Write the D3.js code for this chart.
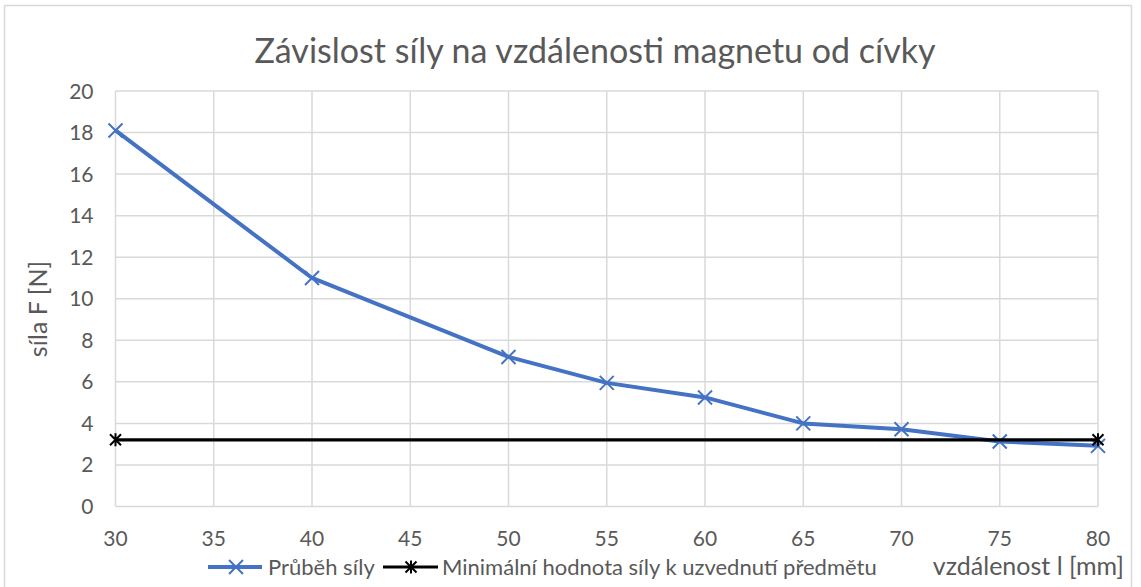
<!DOCTYPE html>
<html>
<head>
<meta charset="utf-8">
<script src="https://cdn.jsdelivr.net/npm/d3@7"></script>
<style>
  body { margin: 0; background: #fff; }
  text { font-family: Lato, "Open Sans", sans-serif; fill: #595959; }
</style>
</head>
<body>
<script>
// data
var distances = [30, 40, 50, 55, 60, 65, 70, 75, 80];
var forces = [18.1, 11.0, 7.2, 5.95, 5.25, 4.0, 3.72, 3.13, 2.92];
var minDistances = [30, 80];
var minForce = [3.21, 3.21];
var xTicks = [30, 35, 40, 45, 50, 55, 60, 65, 70, 75, 80];
var yTicks = [0, 2, 4, 6, 8, 10, 12, 14, 16, 18, 20];
var seriesNames = ['Průběh síly', 'Minimální hodnota síly k uzvednutí předmětu'];

var width = 1141, height = 587;
var plotLeft = 115.5, plotRight = 1098, plotTop = 91, plotBottom = 506.5;

var svg = d3.select('body').append('svg')
  .attr('width', width)
  .attr('height', height);

// chart border
svg.append('rect')
  .attr('x', 4.5).attr('y', 5.5)
  .attr('width', 1127).attr('height', 600)
  .attr('fill', 'none')
  .attr('stroke', '#d9d9d9')
  .attr('stroke-width', 1.5);

var x = d3.scaleLinear().domain([30, 80]).range([plotLeft, plotRight]);
var y = d3.scaleLinear().domain([0, 20]).range([plotBottom, plotTop]);

// grid
svg.append('g').selectAll('line').data(yTicks).enter().append('line')
  .attr('x1', plotLeft).attr('x2', plotRight)
  .attr('y1', function(d) { return y(d); })
  .attr('y2', function(d) { return y(d); })
  .attr('stroke', '#d9d9d9').attr('stroke-width', 1.5);

svg.append('g').selectAll('line').data(xTicks).enter().append('line')
  .attr('y1', plotTop).attr('y2', plotBottom)
  .attr('x1', function(d) { return x(d); })
  .attr('x2', function(d) { return x(d); })
  .attr('stroke', '#d9d9d9').attr('stroke-width', 1.5);

// tick labels
svg.append('g').selectAll('text').data(yTicks).enter().append('text')
  .attr('x', plotLeft - 22)
  .attr('y', function(d) { return y(d) + 7.5; })
  .attr('text-anchor', 'end')
  .attr('font-size', 21)
  .text(function(d) { return d; });

svg.append('g').selectAll('text').data(xTicks).enter().append('text')
  .attr('x', function(d) { return x(d); })
  .attr('y', plotBottom + 39)
  .attr('text-anchor', 'middle')
  .attr('font-size', 21)
  .text(function(d) { return d; });

// title and axis titles
svg.append('text')
  .attr('x', 595).attr('y', 63)
  .attr('text-anchor', 'middle')
  .attr('font-size', 34)
  .text('Závislost síly na vzdálenosti magnetu od cívky');

svg.append('text')
  .attr('transform', 'translate(47,309) rotate(-90)')
  .attr('text-anchor', 'middle')
  .attr('font-size', 25)
  .text('síla F [N]');

svg.append('text')
  .attr('x', 1124).attr('y', 575)
  .attr('text-anchor', 'end')
  .attr('font-size', 25)
  .text('vzdálenost l [mm]');

var line = d3.line()
  .x(function(d) { return x(d[0]); })
  .y(function(d) { return y(d[1]); });

var forceData = d3.zip(distances, forces);
var minData = d3.zip(minDistances, minForce);

var crossPath = function(cx, cy, r) {
  return 'M' + (cx - r) + ',' + (cy - r) + 'L' + (cx + r) + ',' + (cy + r) +
    'M' + (cx - r) + ',' + (cy + r) + 'L' + (cx + r) + ',' + (cy - r);
};
var starPath = function(cx, cy, r) {
  return crossPath(cx, cy, r) + 'M' + cx + ',' + (cy - r - 1) + 'L' + cx + ',' + (cy + r + 1);
};

svg.append('path').datum(forceData)
  .attr('d', line)
  .attr('fill', 'none')
  .attr('stroke', '#4472c4')
  .attr('stroke-width', 4)
  .attr('stroke-linejoin', 'round');

svg.append('g').selectAll('path').data(forceData).enter().append('path')
  .attr('d', function(d) { return crossPath(x(d[0]), y(d[1]), 7); })
  .attr('stroke', '#4472c4').attr('stroke-width', 2);

svg.append('path').datum(minData)
  .attr('d', line)
  .attr('fill', 'none')
  .attr('stroke', '#000')
  .attr('stroke-width', 3.2);

svg.append('g').selectAll('path').data(minData).enter().append('path')
  .attr('d', function(d) { return starPath(x(d[0]), y(d[1]), 5.5); })
  .attr('stroke', '#000').attr('stroke-width', 2);

// legend
var legendY = 567;
var legend = svg.append('g');
legend.append('line').attr('x1', 208).attr('x2', 262).attr('y1', legendY).attr('y2', legendY)
  .attr('stroke', '#4472c4').attr('stroke-width', 4);
legend.append('path').attr('d', crossPath(236, legendY, 7))
  .attr('stroke', '#4472c4').attr('stroke-width', 2);
legend.append('text').attr('x', 268).attr('y', legendY + 8).attr('font-size', 22).text(seriesNames[0]);

legend.append('line').attr('x1', 383).attr('x2', 438).attr('y1', legendY).attr('y2', legendY)
  .attr('stroke', '#000').attr('stroke-width', 3.2);
legend.append('path').attr('d', starPath(411, legendY, 5.5))
  .attr('stroke', '#000').attr('stroke-width', 2);
legend.append('text').attr('x', 442).attr('y', legendY + 8).attr('font-size', 22).text(seriesNames[1]);
</script>
</body>
</html>
